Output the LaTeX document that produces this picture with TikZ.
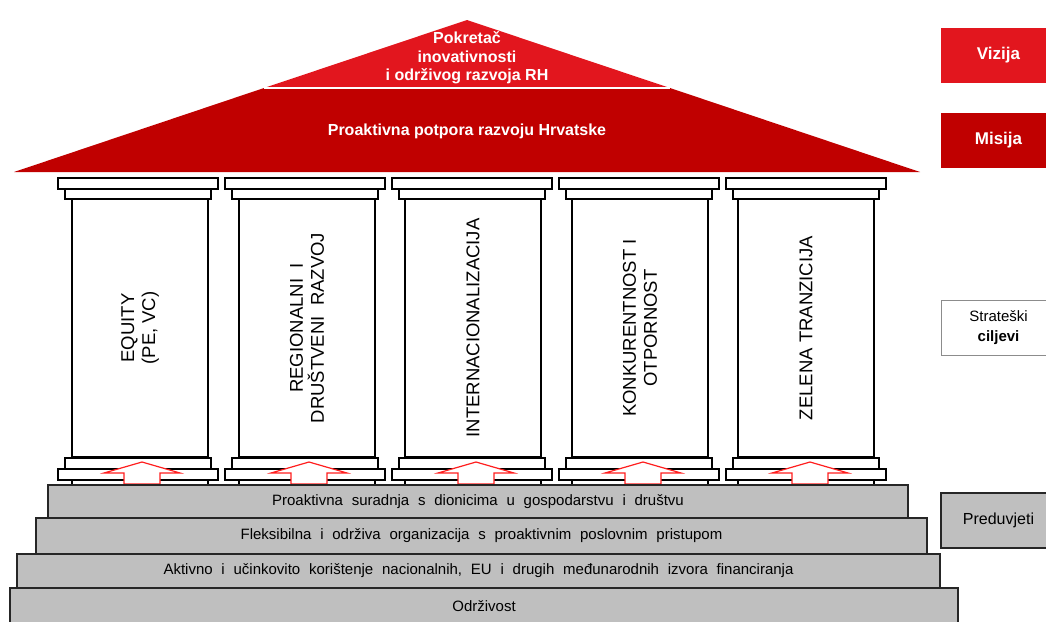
\documentclass[tikz,border=0pt]{standalone}
\usepackage{fontspec}
\setmainfont{Liberation Sans}
\definecolor{roofred}{HTML}{E2161E}
\definecolor{roofdark}{HTML}{C00000}
\definecolor{stepgray}{HTML}{BFBFBF}
\definecolor{arrowred}{HTML}{FF1E1E}
\begin{document}
\begin{tikzpicture}[x=1pt, y=-1pt,
	slab/.style={draw=black, fill=white, line width=1.3pt},
	shaft/.style={draw=black, fill=white, line width=1.5pt, rotate=90, minimum width=258pt, minimum height=136pt, inner sep=0pt, align=center, font=\fontsize{18.5}{21}\selectfont},
	stair/.style={draw=black!85, fill=stepgray, line width=1.3pt, inner sep=0pt, font={\fontsize{15}{17}\selectfont\spaceskip 8.8pt\relax}},
	liftarrow/.style={draw=arrowred, fill=white, line width=1.2pt},
	rooftext/.style={text=white, align=center, font=\fontsize{16}{18.5}\selectfont\bfseries},
	tag/.style={minimum width=115pt, minimum height=55pt, inner sep=0pt, align=center, font=\fontsize{17}{20}\selectfont}]
	\useasboundingbox (0,0) rectangle (1046,621);
	% roof
	\fill[roofdark] (14,172) -- (920,172) -- (670,88) -- (264,88) -- cycle;
	\fill[roofred] (264,88) -- (670,88) -- (467,20) -- cycle;
	\draw[white, line width=1.5pt] (264,88) -- (670,88);
	\node[rooftext] (vision) at (467,58) {Pokretač\\inovativnosti\\i održivog razvoja RH};
	\node[rooftext] (mission) at (467,131) {Proaktivna potpora razvoju Hrvatske};
	% pillars
	\draw[slab] (58,178) rectangle (218,189);
	\draw[slab] (65,189) rectangle (211,199);
	\node[shaft] (equity) at (140,328) {EQUITY\\(PE, VC)};
	\draw[slab] (72,457) rectangle (208,487);
	\draw[slab] (65,458) rectangle (211,469);
	\draw[slab] (58,469) rectangle (218,480);
	\draw[liftarrow] (142,462) -- (180,473) -- (160,473) -- (160,484) -- (124,484) -- (124,473) -- (104,473) -- cycle;

	\draw[slab] (225,178) rectangle (385,189);
	\draw[slab] (232,189) rectangle (378,199);
	\node[shaft] (regional) at (307,328) {REGIONALNI \ I\\DRUŠTVENI \ RAZVOJ};
	\draw[slab] (239,457) rectangle (375,487);
	\draw[slab] (232,458) rectangle (378,469);
	\draw[slab] (225,469) rectangle (385,480);
	\draw[liftarrow] (309,462) -- (347,473) -- (327,473) -- (327,484) -- (291,484) -- (291,473) -- (271,473) -- cycle;

	\draw[slab] (392,178) rectangle (552,189);
	\draw[slab] (399,189) rectangle (545,199);
	\node[shaft] (international) at (473,328) {INTERNACIONALIZACIJA};
	\draw[slab] (405,457) rectangle (541,487);
	\draw[slab] (399,458) rectangle (545,469);
	\draw[slab] (392,469) rectangle (552,480);
	\draw[liftarrow] (476,462) -- (514,473) -- (494,473) -- (494,484) -- (458,484) -- (458,473) -- (438,473) -- cycle;

	\draw[slab] (559,178) rectangle (719,189);
	\draw[slab] (566,189) rectangle (712,199);
	\node[shaft] (competitive) at (640,328) {KONKURENTNOST I\\OTPORNOST};
	\draw[slab] (572,457) rectangle (708,487);
	\draw[slab] (566,458) rectangle (712,469);
	\draw[slab] (559,469) rectangle (719,480);
	\draw[liftarrow] (643,462) -- (681,473) -- (661,473) -- (661,484) -- (625,484) -- (625,473) -- (605,473) -- cycle;

	\draw[slab] (726,178) rectangle (886,189);
	\draw[slab] (733,189) rectangle (879,199);
	\node[shaft] (green) at (806,328) {ZELENA TRANZICIJA};
	\draw[slab] (738,457) rectangle (874,487);
	\draw[slab] (733,458) rectangle (879,469);
	\draw[slab] (726,469) rectangle (886,480);
	\draw[liftarrow] (810,462) -- (848,473) -- (828,473) -- (828,484) -- (792,484) -- (792,473) -- (772,473) -- cycle;
	% steps
	\node[stair, minimum width=948pt, minimum height=36pt] (sustain) at (484,606) {Održivost};
	\node[stair, minimum width=923pt, minimum height=34pt] (funding) at (478.5,571) {Aktivno i učinkovito korištenje nacionalnih, EU i drugih međunarodnih izvora financiranja};
	\node[stair, minimum width=891pt, minimum height=36pt] (organisation) at (481.5,536) {Fleksibilna i održiva organizacija s proaktivnim poslovnim pristupom};
	\node[stair, minimum width=860pt, minimum height=33pt] (partners) at (478,501.5) {Proaktivna suradnja s dionicima u gospodarstvu i društvu};
	% right side labels
	\node[tag, fill=roofred, text=white, font=\fontsize{17}{20}\selectfont\bfseries] (vizija) at (998.5,55.5) {Vizija};
	\node[tag, fill=roofdark, text=white, font=\fontsize{17}{20}\selectfont\bfseries] (misija) at (998.5,140) {Misija};
	\node[tag, draw=black!45, line width=1pt, fill=white, font=\fontsize{15}{20}\selectfont] (goals) at (998.5,327.5) {Strateški\\\textbf{ciljevi}};
	\node[tag, draw=black!85, line width=1.3pt, fill=stepgray, font=\fontsize{16}{20}\selectfont] (preconditions) at (998.5,520.5) {Preduvjeti};
\end{tikzpicture}
\end{document}
